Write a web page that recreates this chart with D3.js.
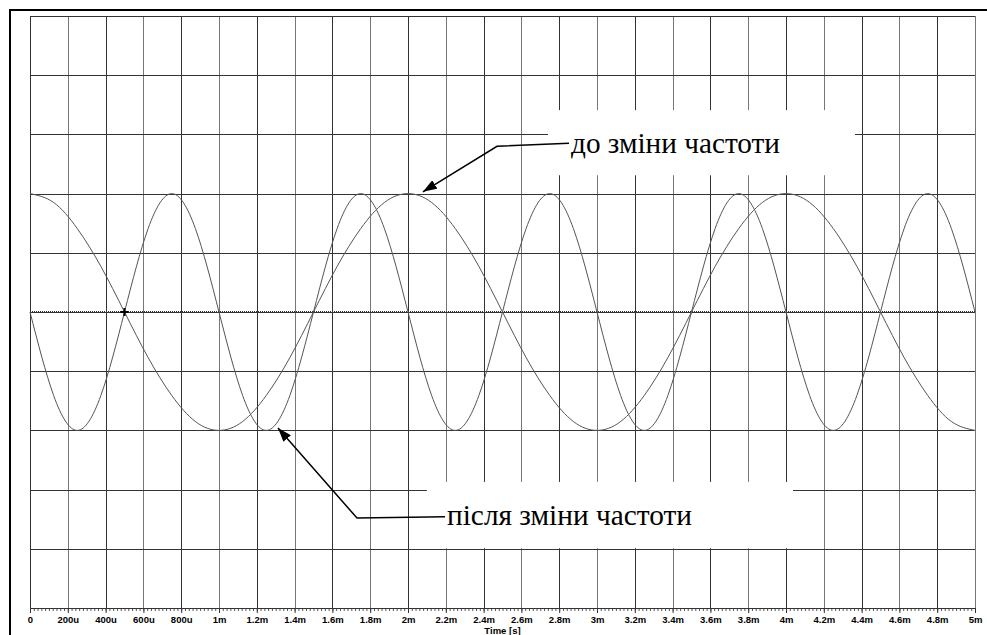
<!DOCTYPE html>
<html>
<head>
<meta charset="utf-8">
<script src="https://cdn.jsdelivr.net/npm/d3@7"></script>
<style>
  body { margin: 0; background: #fff; }
  svg { display: block; }
  .note { font-family: "Liberation Serif", "Times New Roman", Times, "DejaVu Serif", "Noto Serif", serif; }
</style>
</head>
<body>
<svg></svg>
<script>
// time samples, seconds (every 125u)
let times = [
  0, 0.000125, 0.00025, 0.000375, 0.0005, 0.000625, 0.00075, 0.000875,
  0.001, 0.001125, 0.00125, 0.001375, 0.0015, 0.001625, 0.00175, 0.001875,
  0.002, 0.002125, 0.00225, 0.002375, 0.0025, 0.002625, 0.00275, 0.002875,
  0.003, 0.003125, 0.00325, 0.003375, 0.0035, 0.003625, 0.00375, 0.003875,
  0.004, 0.004125, 0.00425, 0.004375, 0.0045, 0.004625, 0.00475, 0.004875,
  0.005
];

// "до зміни частоти" trace
let beforeValues = [
  2, 1.85, 1.41, 0.77, 0, -0.77, -1.41, -1.85,
  -2, -1.85, -1.41, -0.77, 0, 0.77, 1.41, 1.85,
  2, 1.85, 1.41, 0.77, 0, -0.77, -1.41, -1.85,
  -2, -1.85, -1.41, -0.77, 0, 0.77, 1.41, 1.85,
  2, 1.85, 1.41, 0.77, 0, -0.77, -1.41, -1.85,
  -2
];

// "після зміни частоти" trace
let afterValues = [
  0, -1.41, -2, -1.41, 0, 1.41, 2, 1.41,
  0, -1.41, -2, -1.41, 0, 1.41, 2, 1.41,
  0, -1.41, -2, -1.41, 0, 1.41, 2, 1.41,
  0, -1.41, -2, -1.41, 0, 1.41, 2, 1.41,
  0, -1.41, -2, -1.41, 0, 1.41, 2, 1.41,
  0
];

let majorTicks = d3.range(0, 26).map(i => i * 0.0002);
let minorTicks = d3.range(0, 251).map(i => i * 0.00002);
let tickLabels = [
  "0", "200u", "400u", "600u", "800u", "1m", "1.2m", "1.4m", "1.6m", "1.8m",
  "2m", "2.2m", "2.4m", "2.6m", "2.8m", "3m", "3.2m", "3.4m", "3.6m", "3.8m",
  "4m", "4.2m", "4.4m", "4.6m", "4.8m", "5m"
];
let gridLevels = [-5, -4, -3, -2, -1, 0, 1, 2, 3, 4, 5];

let width = 987;
let height = 635;
let plotLeft = 30;
let plotRight = 975;
let plotTop = 16;
let plotBottom = 608;

let svg = d3.select("svg").attr("width", width).attr("height", height);

let xScale = d3.scaleLinear().domain([0, 0.005]).range([plotLeft, plotRight]);
let yScale = d3.scaleLinear().domain([-5, 5]).range([plotBottom, plotTop]);

// outer frame
svg.append("rect")
  .attr("x", 10)
  .attr("y", 10)
  .attr("width", 990)
  .attr("height", 640)
  .attr("fill", "#fff")
  .attr("stroke", "#000")
  .attr("stroke-width", 2);

// grid
svg.append("g")
  .selectAll("line")
  .data(majorTicks)
  .enter()
  .append("line")
  .attr("x1", d => Math.round(xScale(d)) + 0.5)
  .attr("x2", d => Math.round(xScale(d)) + 0.5)
  .attr("y1", plotTop)
  .attr("y2", plotBottom)
  .attr("stroke", (d, i) => (i % 2 == 0 ? "#333" : "#777"));

svg.append("g")
  .selectAll("line")
  .data(gridLevels)
  .enter()
  .append("line")
  .attr("x1", plotLeft)
  .attr("x2", plotRight)
  .attr("y1", d => Math.round(yScale(d)) + 0.5)
  .attr("y2", d => Math.round(yScale(d)) + 0.5)
  .attr("stroke", "#333");

// label boxes hide the grid
let boxes = [
  { t0: 0.002741, t1: 0.004365, v0: 3.41, v1: 2.31 },
  { t0: 0.002100, t1: 0.004037, v0: -2.87, v1: -3.99 }
];
svg.append("g")
  .selectAll("rect")
  .data(boxes)
  .enter()
  .append("rect")
  .attr("x", d => xScale(d.t0))
  .attr("y", d => yScale(d.v0))
  .attr("width", d => xScale(d.t1) - xScale(d.t0))
  .attr("height", d => yScale(d.v1) - yScale(d.v0))
  .attr("fill", "#fff");

// zero trace
svg.append("line")
  .attr("x1", plotLeft)
  .attr("x2", plotRight)
  .attr("y1", yScale(0))
  .attr("y2", yScale(0))
  .attr("stroke", "#333")
  .attr("stroke-width", 2)
  .attr("stroke-dasharray", "1,1");

let line = d3.line()
  .x(d => xScale(d[0]))
  .y(d => yScale(d[1]))
  .curve(d3.curveNatural);

[beforeValues, afterValues].forEach(vals => {
  svg.append("path")
    .datum(times.map((t, i) => [t, vals[i]]))
    .attr("d", line)
    .attr("fill", "none")
    .attr("stroke", "#555")
    .attr("stroke-width", 1);
});

// cursor cross at 500u
let cx = xScale(0.0005);
let cy = yScale(0);
svg.append("path")
  .attr("d", `M${cx - 4},${cy}H${cx + 4}M${cx},${cy - 4}V${cy + 4}`)
  .attr("stroke", "#000")
  .attr("stroke-width", 2);

// x axis
let xAxis = d3.axisBottom(xScale)
  .tickValues(majorTicks)
  .tickSize(5)
  .tickFormat((d, i) => tickLabels[i]);

let minorAxis = d3.axisBottom(xScale)
  .tickValues(minorTicks)
  .tickSize(3)
  .tickFormat("");

svg.append("g")
  .attr("transform", "translate(0," + plotBottom + ")")
  .call(minorAxis)
  .call(g => g.select(".domain").remove())
  .selectAll("line")
  .attr("stroke", "#555");

let axisG = svg.append("g")
  .attr("id", "x-axis")
  .attr("transform", "translate(0," + plotBottom + ")")
  .call(xAxis);

axisG.select(".domain").attr("d", `M${plotLeft},0.5H${plotRight}`).attr("stroke", "#333");
axisG.selectAll("line").attr("stroke", "#333");
axisG.selectAll("text")
  .attr("y", 8)
  .attr("fill", "#000")
  .style("font-family", "'Liberation Sans', Arial, sans-serif")
  .style("font-weight", "bold")
  .style("font-size", "9.5px");

svg.append("text")
  .attr("x", (plotLeft + plotRight) / 2)
  .attr("y", 634)
  .attr("text-anchor", "middle")
  .style("font-family", "'Liberation Sans', Arial, sans-serif")
  .style("font-weight", "bold")
  .style("font-size", "9.5px")
  .text("Time [s]");

// annotations
svg.append("defs")
  .append("marker")
  .attr("id", "head")
  .attr("viewBox", "0 0 14 10")
  .attr("refX", 14)
  .attr("refY", 5)
  .attr("markerWidth", 14)
  .attr("markerHeight", 10)
  .attr("markerUnits", "userSpaceOnUse")
  .attr("orient", "auto")
  .append("path")
  .attr("d", "M0,0L14,5L0,10Z")
  .attr("fill", "#000");

let notes = [
  { text: "до зміни частоти", tx: 0.002852, ty: 2.69, w: 209, pts: [[0.002852, 2.85], [0.002471, 2.80], [0.002079, 2.03]] },
  { text: "після зміни частоти", tx: 0.002196, ty: -3.60, w: 245, pts: [[0.002196, -3.46], [0.001730, -3.48], [0.001312, -1.96]] }
];

let noteLine = d3.line().x(d => xScale(d[0])).y(d => yScale(d[1]));

notes.forEach(n => {
  svg.append("path")
    .attr("d", noteLine(n.pts))
    .attr("fill", "none")
    .attr("stroke", "#000")
    .attr("stroke-width", 1.5)
    .attr("marker-end", "url(#head)");

  let label = svg.append("text")
    .attr("class", "note")
    .attr("x", xScale(n.tx) + 2)
    .attr("y", yScale(n.ty))
    .style("font-size", "28px")
    .attr("fill", "#000")
    .text(n.text);

  // fit the label to the width it takes in the picture
  let len = label.node().getComputedTextLength();
  if (len > 0) {
    label.style("font-size", Math.min(30, 28 * n.w / len) + "px");
  }
});
</script>
</body>
</html>
